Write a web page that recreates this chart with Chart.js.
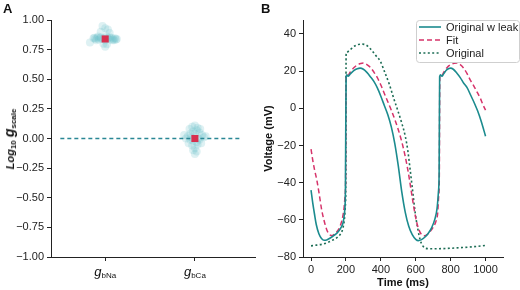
<!DOCTYPE html>
<html><head><meta charset="utf-8">
<script src="https://cdn.jsdelivr.net/npm/chart.js@4.4.0/dist/chart.umd.min.js"></script>
<style>
body{margin:0;background:#fff;width:520px;height:290px;overflow:hidden;position:relative;font-family:"Liberation Sans",Arial,sans-serif;}
canvas{position:absolute;top:0;}
#cA{left:0}
#cB{left:260px}
.lbl{position:absolute;color:#111;white-space:nowrap;line-height:1;}
.xl{font-size:11px;transform:translate(-50%,-50%);}
.xl i{font-size:13px;}
.xl sub{font-size:8px;vertical-align:-2px;}
#ytA{font-size:11px;font-weight:bold;font-style:italic;transform:translate(-50%,-50%) rotate(-90deg);}
#ytA sub{font-size:8px;vertical-align:-2px;font-style:normal;}
#ytA .g{font-size:14px;}
</style></head><body>
<canvas id="cA" width="260" height="290"></canvas>
<canvas id="cB" width="260" height="290"></canvas>
<div class="lbl" style="left:3px;top:2px;font-weight:bold;font-size:13px">A</div>
<div class="lbl" style="left:261px;top:2px;font-weight:bold;font-size:13px">B</div>
<div class="lbl" id="ytA">Log<sub>10</sub> <span class="g">g</span><sub><b>scale</b></sub></div>
<div class="lbl xl" id="xl0"><i>g</i><sub>bNa</sub></div>
<div class="lbl xl" id="xl1"><i>g</i><sub>bCa</sub></div>
<script>
// ---------- Panel A data ----------
const paramNames = ['gbNa', 'gbCa'];
const meanLog = [0.84, 0.0];
const naCloudX = [-0.13,-0.11,-0.09,-0.07,-0.05,-0.03,-0.01,0.01,0.03,0.05,0.07,0.09,0.11,0.13,-0.1,-0.05,0.0,0.05,0.1,-0.08,0.02,0.08,-0.03,0.0,0.03,-0.05,0.05,-0.17,-0.02,0.02,0.0,-0.12,0.12];
const naCloudY = [0.845,0.84,0.85,0.835,0.845,0.84,0.85,0.84,0.845,0.835,0.85,0.84,0.845,0.84,0.83,0.855,0.83,0.855,0.83,0.86,0.86,0.83,0.95,0.93,0.92,0.9,0.89,0.81,0.8,0.795,0.775,0.85,0.835];
const caCloudX = [-0.08,-0.05,-0.02,0.02,0.05,0.08,-0.06,-0.03,0,0.03,0.06,-0.1,-0.04,0.04,0.1,-0.02,0.02,0,-0.07,0.07,-0.03,0.03,0.0,-0.02,0.02,0.0,-0.12,0.12,0.05,-0.05];
const caCloudY = [0.02,0.04,0.06,0.07,0.05,0.03,0.08,0.1,0.11,0.09,0.08,0.0,0.01,0.0,0.01,-0.02,-0.03,0.04,-0.04,-0.04,-0.06,-0.05,-0.08,-0.1,-0.11,-0.13,0.03,0.02,-0.01,-0.01];
const yTicksA = [-1,-0.75,-0.5,-0.25,0,0.25,0.5,0.75,1];

// ---------- Panel B data ----------
const tLeak = [0,10,20,30,45,60,75,90,110,130,150,170,185,192,197,201,205,212,225,245,265,281,300,320,340,360,380,400,420,440,460,480,500,520,540,560,580,600,615,630,650,670,690,710,722,730,734,737,742,750,760,775,790,800,815,835,855,875,895,915,935,955,975,1000];
const vLeak = [-44,-51,-57,-62.5,-67.5,-70,-71,-70.8,-69.8,-68.5,-67,-64.5,-61,-56,-45,17,18,17.2,18.5,20.3,21.3,21.6,21,19.3,17,14.5,11,6.5,1.5,-3.5,-10,-19,-31,-45,-56,-63.5,-68,-70.5,-71.2,-70.8,-69.5,-67.5,-64.5,-59.5,-54,-45,-35,17,18,17.2,18.5,20.5,21.4,21.6,21,19,16.5,13.5,11,7,3,-1.5,-7,-15];
const tFit = [0,10,20,33,45,61,75,90,105,119,135,157,172,182,190,195,198,201,205,212,225,245,265,285,300,320,340,360,380,400,420,440,460,480,500,520,540,560,580,600,615,630,650,665,683,700,715,725,731,735,738,742,750,760,780,800,820,836,855,875,895,912,930,950,970,985,1000];
const vFit = [-22,-28,-33,-38.5,-45,-54.6,-60.5,-65.3,-67.8,-68.5,-67.5,-65.3,-62,-58.2,-53,-47,-40,17,18,17.8,19.5,21.8,23.3,24.1,24.3,23.5,22,19.5,16.5,12.5,8,3.5,-1,-6,-11.5,-18,-26,-36,-48,-59,-64.5,-67.5,-68.6,-68,-66.2,-64,-61,-57,-48,-38,17,18,17.8,19.3,22,23.5,24.2,24.3,23.5,21.5,18.5,15.3,12.5,9,5.4,2,-1];
const tOrig = [0,30,71,100,128,150,166,178,185,192,197,199,201,205,215,230,250,270,290,305,320,335,350,370,396,420,450,475,500,520,540,555,568,583,597,612,625,637,650,670,700,750,800,850,900,950,1000];
const vOrig = [-74,-73.6,-73,-72,-70.7,-69.5,-68,-66,-63.5,-59,-52,-45,29,30,30.8,32,33.5,34.3,34.5,34.4,33.8,32.5,31,28.5,25.5,20,12.5,5,-2,-8,-15,-23,-33,-45,-56.3,-65,-70.7,-73.5,-75,-75.5,-75.6,-75.5,-75.3,-75,-74.7,-74.3,-73.8];
const seriesLabels = ['Original w leak', 'Fit', 'Original'];
const xTicksB = [0,200,400,600,800,1000];
const yTicksB = [-80,-60,-40,-20,0,20,40];

// ---------- helpers ----------
const zip = (xs, ys) => xs.map((x, i) => ({x, y: ys[i]}));
const minus = s => String(s).replace('-', '\u2212');
const FONT = {family: '"Liberation Sans", Arial, sans-serif', size: 11};
const TICKC = '#222';
const axisCommon = {
  grid: {drawOnChartArea: false, drawTicks: true, tickLength: 4, color: '#222', lineWidth: 1},
  border: {display: true, color: '#222', width: 1}
};

// ---------- Chart A ----------
const chartA = new Chart(document.getElementById('cA'), {
  type: 'scatter',
  data: {datasets: [
    {data: meanLog.map((y, i) => ({x: i, y})), pointStyle: 'rect', pointRadius: 5, backgroundColor: '#d7304f', borderWidth: 0, order: 0},
    {type: 'line', data: [{x: -0.5, y: 0}, {x: 1.5, y: 0}], borderColor: '#2a8795', borderWidth: 1.3, borderDash: [4, 3], pointRadius: 0, order: 1},
    {data: zip(naCloudX.map(v => v + 0), naCloudY), pointRadius: 4, backgroundColor: 'rgba(105,190,202,0.22)', borderWidth: 0, order: 2},
    {data: zip(caCloudX.map(v => v + 1), caCloudY), pointRadius: 4, backgroundColor: 'rgba(105,190,202,0.22)', borderWidth: 0, order: 3}
  ]},
  options: {
    responsive: false, animation: false, events: [],
    plugins: {legend: {display: false}, tooltip: {enabled: false}},
    layout: {padding: {top: 20, right: 2, left: 0, bottom: 0}},
    scales: {
      x: {type: 'linear', min: -0.604, max: 1.67, ...axisCommon,
          afterBuildTicks: s => { s.ticks = paramNames.map((n, i) => ({value: i})); },
          ticks: {callback: () => '', font: FONT},
          afterFit: s => { s.height = 33; }},
      y: {min: -1, max: 1, ...axisCommon,
          afterBuildTicks: s => { s.ticks = yTicksA.map(v => ({value: v})); },
          ticks: {callback: v => minus(Number(v).toFixed(2)), font: FONT, color: TICKC, padding: 3},
          afterFit: s => { s.width = 51; }}
    }
  }
});
// position HTML labels for panel A
(function () {
  const xs = chartA.scales.x, ys = chartA.scales.y;
  document.getElementById('xl0').style.left = xs.getPixelForValue(0) + 'px';
  document.getElementById('xl0').style.top = '272px';
  document.getElementById('xl1').style.left = xs.getPixelForValue(1) + 'px';
  document.getElementById('xl1').style.top = '272px';
  const yt = document.getElementById('ytA');
  yt.style.left = '10px';
  yt.style.top = ys.getPixelForValue(0) + 'px';
})();

// ---------- Chart B ----------
const legendBox = {
  id: 'legendBox',
  afterDatasetsDraw(chart) {
    const ctx = chart.ctx;
    const x0 = 156, y0 = 20, w = 103, h = 42;
    ctx.save();
    ctx.beginPath();
    ctx.roundRect(x0 + 0.5, y0 + 0.5, w, h, 3);
    ctx.fillStyle = 'rgba(255,255,255,0.85)';
    ctx.fill();
    ctx.strokeStyle = '#cfcfcf';
    ctx.lineWidth = 1;
    ctx.stroke();
    const ys = [27, 40, 53];
    chart.data.datasets.forEach((ds, i) => {
      ctx.beginPath();
      ctx.setLineDash(ds.borderDash || []);
      ctx.strokeStyle = ds.borderColor;
      ctx.lineWidth = ds.borderWidth;
      ctx.moveTo(159, ys[i]);
      ctx.lineTo(181, ys[i]);
      ctx.stroke();
      ctx.setLineDash([]);
      ctx.fillStyle = '#222';
      ctx.font = '11px "Liberation Sans", Arial, sans-serif';
      ctx.textBaseline = 'middle';
      ctx.fillText(ds.label, 186, ys[i] + 0.5);
    });
    ctx.restore();
  }
};

new Chart(document.getElementById('cB'), {
  type: 'line',
  data: {datasets: [
    {label: seriesLabels[0], data: zip(tLeak, vLeak), borderColor: '#1b8b8e', borderWidth: 1.6},
    {label: seriesLabels[1], data: zip(tFit, vFit), borderColor: '#d6336a', borderWidth: 1.5, borderDash: [5, 3]},
    {label: seriesLabels[2], data: zip(tOrig, vOrig), borderColor: '#1d6d55', borderWidth: 1.6, borderDash: [2, 2.4]}
  ]},
  options: {
    responsive: false, animation: false, events: [],
    elements: {point: {radius: 0}, line: {cubicInterpolationMode: 'monotone', fill: false}},
    plugins: {legend: {display: false}, tooltip: {enabled: false}},
    layout: {padding: {top: 20, right: 17, left: 0, bottom: 0}},
    scales: {
      x: {type: 'linear', min: -46, max: 1100, ...axisCommon,
          afterBuildTicks: s => { s.ticks = xTicksB.map(v => ({value: v})); },
          ticks: {callback: v => String(v), font: FONT, color: TICKC, padding: 2, maxRotation: 0},
          title: {display: true, text: 'Time (ms)', font: {...FONT, weight: 'bold'}, color: '#111', padding: {top: 0, bottom: 0}},
          afterFit: s => { s.height = 33; }},
      y: {min: -80, max: 47.5, ...axisCommon,
          afterBuildTicks: s => { s.ticks = yTicksB.map(v => ({value: v})); },
          ticks: {callback: v => minus(v), font: FONT, color: TICKC, padding: 3},
          title: {display: true, text: 'Voltage (mV)', font: {...FONT, weight: 'bold'}, color: '#111', padding: {top: 2, bottom: 0}},
          afterFit: s => { s.width = 43; }}
    }
  },
  plugins: [legendBox]
});
</script>
</body></html>
